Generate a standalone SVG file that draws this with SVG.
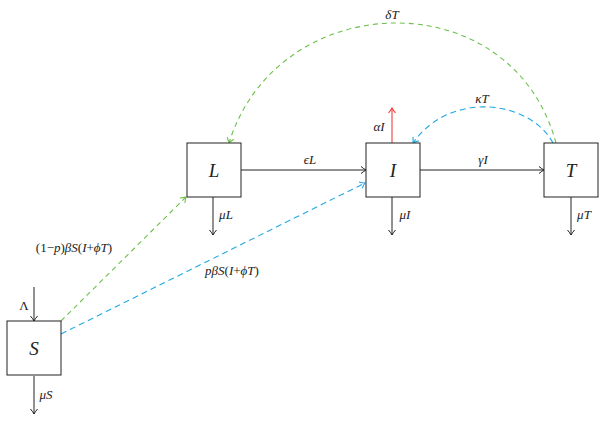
<svg xmlns="http://www.w3.org/2000/svg" width="604" height="425" viewBox="0 0 604 425">
<style>
.box{fill:#fff;stroke:#222;stroke-width:1}
.ln{fill:none;stroke:#222;stroke-width:1}
.g{fill:none;stroke:#6cc04a;stroke-width:1.1;stroke-dasharray:5,4}
.b{fill:none;stroke:#1fa9e6;stroke-width:1.1;stroke-dasharray:6,4}
.r{fill:none;stroke:#f03c3c;stroke-width:1.1}
.big{font-family:"Liberation Serif",serif;font-style:italic;font-size:19px;fill:#222;text-anchor:middle}
.lb{font-family:"Liberation Serif",serif;font-style:italic;font-size:13px;fill:#222;text-anchor:middle}
.up{font-style:normal}
</style>
<defs>
<marker id="ak" markerWidth="10" markerHeight="10" refX="7" refY="5" orient="auto" markerUnits="userSpaceOnUse"><path d="M2,1.5 Q5,4 7,5 Q5,6 2,8.5" fill="none" stroke="#222" stroke-width="1"/></marker>
<marker id="ag" markerWidth="10" markerHeight="10" refX="7" refY="5" orient="auto" markerUnits="userSpaceOnUse"><path d="M2,1.5 Q5,4 7,5 Q5,6 2,8.5" fill="none" stroke="#6cc04a" stroke-width="1.1"/></marker>
<marker id="ab" markerWidth="10" markerHeight="10" refX="7" refY="5" orient="auto" markerUnits="userSpaceOnUse"><path d="M2,1.5 Q5,4 7,5 Q5,6 2,8.5" fill="none" stroke="#1fa9e6" stroke-width="1.1"/></marker>
<marker id="ar" markerWidth="10" markerHeight="10" refX="7" refY="5" orient="auto" markerUnits="userSpaceOnUse"><path d="M2,1.5 Q5,4 7,5 Q5,6 2,8.5" fill="none" stroke="#f03c3c" stroke-width="1.1"/></marker>
</defs>
<g id="connectors">
<line class="ln" x1="34" y1="287" x2="34" y2="321" marker-end="url(#ak)"/>
<line class="ln" x1="34" y1="376" x2="34" y2="414" marker-end="url(#ak)"/>
<line class="ln" x1="213" y1="197" x2="213" y2="235" marker-end="url(#ak)"/>
<line class="ln" x1="392" y1="197" x2="392" y2="235" marker-end="url(#ak)"/>
<line class="ln" x1="571" y1="197" x2="571" y2="235" marker-end="url(#ak)"/>
<line class="ln" x1="241" y1="170" x2="366" y2="170" marker-end="url(#ak)"/>
<line class="ln" x1="420" y1="170" x2="544" y2="170" marker-end="url(#ak)"/>
<line class="r" x1="392" y1="143" x2="392" y2="108" marker-end="url(#ar)"/>
<line class="g" x1="61" y1="321" x2="186" y2="197" marker-end="url(#ag)"/>
<line class="b" x1="61" y1="334" x2="365" y2="183" marker-end="url(#ab)"/>
<path class="b" d="M553,143 C530,100 450,90 413,143" marker-end="url(#ab)"/>
<path class="g" d="M556,143 C512,-20 278,-14 229,143" marker-end="url(#ag)"/>
<text class="lb up" x="24" y="310">Λ</text>
<text class="lb" x="46" y="399">μS</text>
<text class="lb" x="226" y="219">μL</text>
<text class="lb" x="405" y="219">μI</text>
<text class="lb" x="584" y="219">μT</text>
<text class="lb" x="310" y="164">ϵL</text>
<text class="lb" x="483" y="164">γI</text>
<text class="lb" x="379" y="131">αI</text>
<text class="lb" x="482" y="103">κT</text>
<text class="lb" x="392" y="19">δT</text>
<text class="lb" x="74" y="252"><tspan class="up">(1−</tspan>p<tspan class="up">)</tspan>βS<tspan class="up">(</tspan>I<tspan class="up">+</tspan>ϕT<tspan class="up">)</tspan></text>
<text class="lb" x="232" y="275">pβS<tspan class="up">(</tspan>I<tspan class="up">+</tspan>ϕT<tspan class="up">)</tspan></text>
</g>
<g id="S"><rect class="box" x="7" y="321" width="54" height="54"/><text class="big" x="34" y="355">S</text></g>
<g id="L"><rect class="box" x="187" y="143" width="54" height="54"/><text class="big" x="214" y="177">L</text></g>
<g id="I"><rect class="box" x="366" y="143" width="54" height="54"/><text class="big" x="393" y="177">I</text></g>
<g id="T"><rect class="box" x="544" y="143" width="54" height="54"/><text class="big" x="571" y="177">T</text></g>
</svg>
